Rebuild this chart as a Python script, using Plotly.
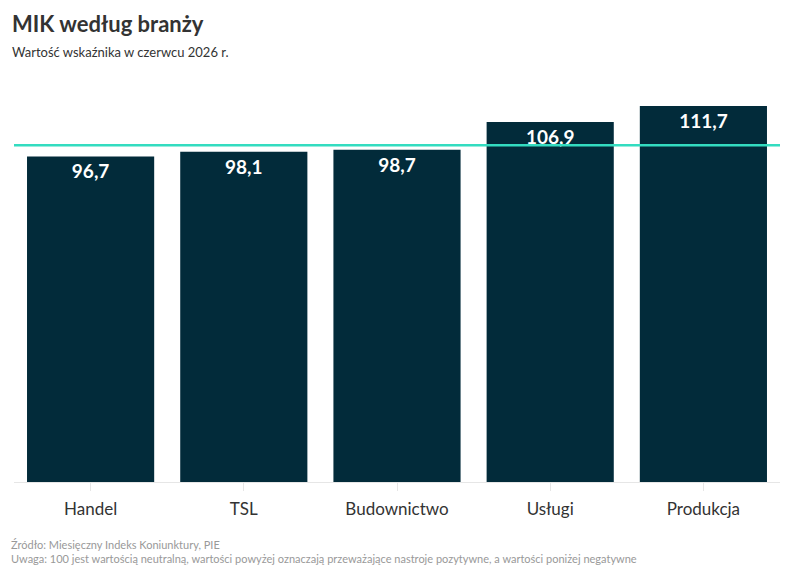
import plotly.graph_objects as go

categories = ["Handel", "TSL", "Budownictwo", "Usługi", "Produkcja"]
values = [96.7, 98.1, 98.7, 106.9, 111.7]
neutral = 100

FONT = "Source Sans Pro, Lato, Roboto, sans-serif"

fig = go.Figure()
fig.add_trace(go.Bar(
    x=categories, y=values,
    marker=dict(color="#022b3a", line=dict(width=0)),
    text=[f"{v:.1f}".replace(".", ",") for v in values],
    textposition="inside", insidetextanchor="end",
    textfont=dict(color="white", size=19, family=FONT, weight="bold"),
    textangle=0,
    cliponaxis=False,
    hoverinfo="skip",
))

fig.add_shape(type="line", xref="paper", yref="y", x0=0, x1=1, y0=neutral, y1=neutral,
              line=dict(color="#33dcc0", width=2.5), layer="above")

fig.update_layout(
    width=794, height=575,
    margin=dict(l=14, r=14, t=78, b=93),
    paper_bgcolor="white", plot_bgcolor="white",
    bargap=0.17,
    separators=", ",
    showlegend=False,
    font=dict(family=FONT, color="#333333"),
    xaxis=dict(showgrid=False, showline=True, linecolor="#e6e6e6", linewidth=1,
               ticks="outside", ticklen=8, tickcolor="#e6e6e6",
               ticklabelstandoff=4,
               tickfont=dict(size=17, color="#333333", family=FONT)),
    yaxis=dict(range=[0, 120], visible=False, showgrid=False),
    annotations=[
        dict(text="<b>MIK według branży</b>", xref="paper", yref="paper", x=0, y=1,
             xanchor="left", yanchor="top", showarrow=False,
             font=dict(size=22, color="#333333", family=FONT),
             xshift=-4, yshift=78 - 8),
        dict(text="Wartość wskaźnika w czerwcu 2026 r.", xref="paper", yref="paper", x=0, y=1,
             xanchor="left", yanchor="top", showarrow=False,
             font=dict(size=13, color="#333333", family=FONT),
             xshift=-4, yshift=78 - 42),
        dict(text="Źródło: Miesięczny Indeks Koniunktury, PIE", xref="paper", yref="paper", x=0, y=0,
             xanchor="left", yanchor="top", showarrow=False,
             font=dict(size=11, color="#999999", family=FONT),
             xshift=-5, yshift=-54),
        dict(text="Uwaga: 100 jest wartością neutralną, wartości powyżej oznaczają przeważające nastroje pozytywne, a wartości poniżej negatywne",
             xref="paper", yref="paper", x=0, y=0,
             xanchor="left", yanchor="top", showarrow=False,
             font=dict(size=11, color="#999999", family=FONT),
             xshift=-5, yshift=-68),
    ],
)

fig.write_html("out.html")
